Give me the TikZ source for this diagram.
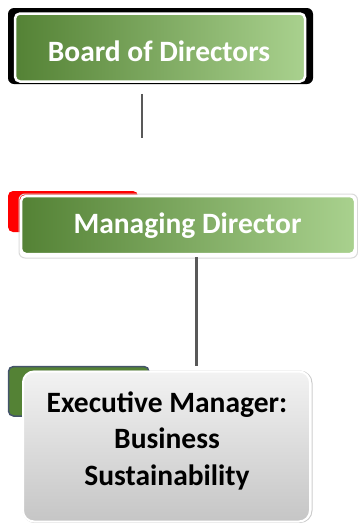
\documentclass[tikz,border=0pt]{standalone}
\usepackage{fontspec}
\setmainfont{Carlito}
\usetikzlibrary{calc}
\definecolor{gdark}{HTML}{548235}
\definecolor{glight}{HTML}{A9D18E}
\definecolor{slate}{HTML}{44546A}
\definecolor{conn}{HTML}{595959}
\tikzset{
  greenbox/.style={rounded corners=5pt, left color=gdark, right color=glight,
    draw=white, line width=2.5pt, inner sep=0pt},
  graybox/.style={rounded corners=11pt, top color=gray!10, bottom color=gray!45,
    draw=white, line width=2pt, inner sep=0pt},
  boxtext/.style={font=\bfseries\fontsize{29.5}{36.5}\selectfont, align=center, inner sep=0pt},
  link/.style={draw=conn, line width=2.2pt},
}
\begin{document}
\begin{tikzpicture}[x=1pt,y=-1pt]
\useasboundingbox (0,0) rectangle (358,523);

% Board of Directors
\fill[rounded corners=6pt] (8,8) rectangle (313,84);
\node[greenbox, minimum width=290pt, minimum height=68pt] (bod) at (160,47.5) {};
\node[boxtext, white, anchor=base] (bodt) at (159,61) {Board of Directors};

% Managing Director
\fill[red, rounded corners=5pt] (8,191) rectangle (138,232);
\draw[gray!30, line width=1pt, rounded corners=6pt] (19,194) rectangle (357.5,258);
\node[greenbox, minimum width=334pt, minimum height=58pt] (md) at (188,225) {};
\node[boxtext, white, anchor=base] (mdt) at (187.5,233) {Managing Director};

% Executive Manager
\filldraw[fill=gdark, draw=slate, line width=1.5pt, rounded corners=5pt] (8.5,366.5) rectangle (149,416);
\draw[gray!40, line width=1pt, rounded corners=12pt] (23,371) rectangle (312,522.5);
\node[graybox, minimum width=287pt, minimum height=150pt] (ex) at (166.5,446.5) {};
\node[boxtext, black, anchor=base] (ext) at (167,485) {Executive Manager:\\Business\\Sustainability};

% connectors
\coordinate (x1) at (142,0);
\coordinate (x2) at (196.5,0);
\draw[link, shorten <=11pt, shorten >=57pt] (bod.south -| x1) -- (md.north -| x1);
\draw[link, shorten <=2pt, shorten >=5pt] (md.south -| x2) -- (ex.north -| x2);
\end{tikzpicture}
\end{document}
